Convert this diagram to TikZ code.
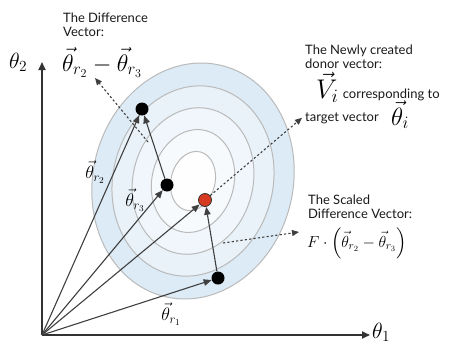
\RequirePackage{fix-cm}
\documentclass[tikz,border=0pt]{standalone}
\usepackage{amsmath}
\usepackage[no-math]{fontspec}
\newfontfamily\notefont{Lato}
\usepackage{tikz}
\usetikzlibrary{arrows.meta,positioning}

\definecolor{ringA}{RGB}{220,235,246}
\definecolor{ringB}{RGB}{233,242,249}
\definecolor{ringC}{RGB}{240,246,251}
\definecolor{ringD}{RGB}{247,250,253}
\definecolor{ringE}{RGB}{254,254,255}
\definecolor{donorred}{RGB}{214,58,32}
\newcommand{\mfont}[1]{\fontsize{#1}{#1}\selectfont}

\begin{document}
\begin{tikzpicture}[
    x=1pt, y=-1pt,
    axis/.style={line width=1.8pt, draw=black!80, -{Triangle[length=8pt,width=7pt]}},
    vec/.style={line width=1.1pt, draw=black!75, -{Triangle[length=8pt,width=6.5pt]}},
    hint/.style={line width=1.1pt, draw=black!75, dash pattern=on 2.2pt off 2.2pt,
        -{Triangle[length=7pt,width=6pt]}},
    dot/.style={circle, fill=black, inner sep=0pt, minimum size=13pt},
    ring/.style={draw=black!27, line width=1pt},
    note/.style={align=left, font=\notefont\fontsize{13}{14}\selectfont, inner sep=0pt,
        text=black!90}
]
\useasboundingbox (0,0) rectangle (449,343);

% contour rings
\begin{scope}[shift={(193,181)}, rotate=76]
  \filldraw[ring, fill=ringA] (0,0) ellipse [x radius=119, y radius=100];
  \filldraw[ring, fill=ringB] (0,0) ellipse [x radius=96, y radius=80];
  \filldraw[ring, fill=ringC] (0,0) ellipse [x radius=74, y radius=60];
  \filldraw[ring, fill=ringD] (0,0) ellipse [x radius=52, y radius=41];
  \filldraw[ring, fill=ringE] (0,0) ellipse [x radius=30, y radius=22];
\end{scope}

% axes
\coordinate (O) at (42,335);
\coordinate (ytip) at (42,62);
\coordinate (xtip) at (370,335);
\draw[axis] (O) -- (ytip);
\draw[axis] (O) -- (xtip);
\node[anchor=base west, inner sep=0pt] (ylbl) at (9,68) {\mfont{22}$\theta_2$};
\node[anchor=base west, inner sep=0pt] (xlbl) at (372,338) {\mfont{22}$\theta_1$};

% population members
\node[dot] (r2dot) at (142,109) {};
\node[dot] (r3dot) at (167,185) {};
\node[dot] (r1dot) at (218,278) {};
\node[dot, fill=donorred, draw=black!80, line width=0.8pt] (target) at (205,200) {};

\draw[vec] (O) -- (r2dot);
\draw[vec] (O) -- (r3dot);
\draw[vec] (O) -- (target);
\draw[vec] (O) -- (r1dot);
\draw[vec] (r3dot) -- (r2dot);
\draw[vec] (r1dot) -- (target);

\node (r2lbl) at (95,172) {\mfont{18}$\vec\theta_{r_2}$};
\node (r3lbl) at (135,200) {\mfont{18}$\vec\theta_{r_3}$};
\node (r1lbl) at (171,314) {\mfont{18}$\vec\theta_{r_1}$};

% labels
\node[note, anchor=north west] (difflbl) at (63,13) {The Difference\\Vector:};
\node[anchor=base west, inner sep=0pt] (diffmath) at (62,71)
  {\mfont{24}$\vec\theta_{r_2}-\vec\theta_{r_3}$};

\node[note, anchor=north west] (donorlbl) at (305,45) {The Newly created\\donor vector:};
\node[anchor=base west, inner sep=0pt] (vlbl) at (316,98) {\mfont{27}$\vec V_i$};
\node[note, anchor=base west] (corrlbl) at ([xshift=4pt]vlbl.base east) {corresponding to};
\node[note, anchor=base west] (tgtlbl) at (305,121) {target vector};
\node[anchor=base west, inner sep=0pt] (thetai) at ([xshift=12pt,yshift=-4pt]tgtlbl.base east)
  {\mfont{25}$\vec\theta_i$};

\node[note, anchor=north west] (scaledlbl) at (308,195) {The Scaled\\Difference Vector:};
\node[anchor=base west, inner sep=0pt] (scaledmath) at (307,247)
  {\mfont{16}$F\cdot\left(\vec\theta_{r_2}-\vec\theta_{r_3}\right)$};

% pointers
\coordinate (dstart) at (148,142);
\coordinate (dend) at (95,78);
\coordinate (sstart) at (223,243);
\coordinate (send) at (299,232);
\draw[hint] (dstart) -- (dend);
\draw[hint] (target) -- ([xshift=-3pt]tgtlbl.west);
\draw[hint] (sstart) -- (send);
\end{tikzpicture}
\end{document}
